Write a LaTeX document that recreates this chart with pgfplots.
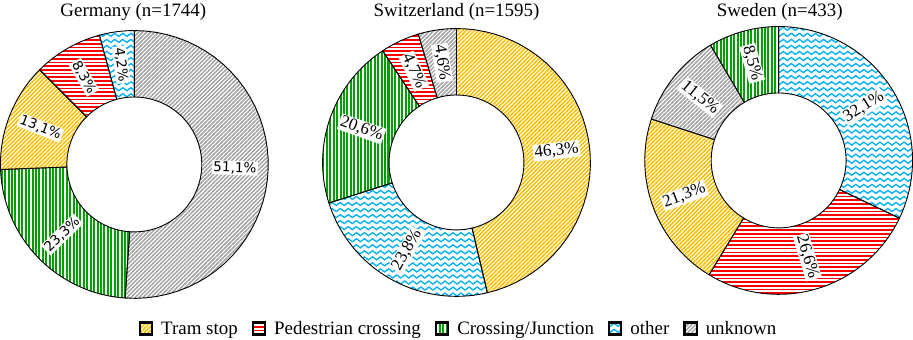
\documentclass[border=0pt]{standalone}
\usepackage{fontspec}
\setmainfont{Liberation Serif}
\newfontfamily\dejavu{DejaVu Sans}
\usepackage{pgfplots}
\pgfplotsset{compat=1.18}
\usetikzlibrary{patterns}

\definecolor{cTram}{HTML}{FFC000}
\definecolor{cPed}{HTML}{FF0000}
\definecolor{cCross}{HTML}{00A000}
\definecolor{cOther}{HTML}{00B0F0}
\definecolor{cUnk}{HTML}{A6A6A6}

\pgfdeclarepatternformonly{neline}{\pgfqpoint{-1bp}{-1bp}}{\pgfqpoint{5bp}{5bp}}{\pgfqpoint{4bp}{4bp}}{%
  \pgfsetlinewidth{1.4bp}%
  \pgfpathmoveto{\pgfqpoint{-1bp}{-1bp}}\pgfpathlineto{\pgfqpoint{5bp}{5bp}}%
  \pgfusepath{stroke}}
\pgfdeclarepatternformonly{hline}{\pgfqpoint{-1bp}{0bp}}{\pgfqpoint{5bp}{3.7bp}}{\pgfqpoint{4bp}{3.7bp}}{%
  \pgfsetlinewidth{1.7bp}%
  \pgfpathmoveto{\pgfqpoint{-1bp}{1.85bp}}\pgfpathlineto{\pgfqpoint{5bp}{1.85bp}}%
  \pgfusepath{stroke}}
\pgfdeclarepatternformonly{vline}{\pgfqpoint{0bp}{-1bp}}{\pgfqpoint{3.4bp}{5bp}}{\pgfqpoint{3.4bp}{4bp}}{%
  \pgfsetlinewidth{2bp}%
  \pgfpathmoveto{\pgfqpoint{1.7bp}{-1bp}}\pgfpathlineto{\pgfqpoint{1.7bp}{5bp}}%
  \pgfusepath{stroke}}
\pgfdeclarepatternformonly{wavy}{\pgfqpoint{-1bp}{-1bp}}{\pgfqpoint{9bp}{7bp}}{\pgfqpoint{8bp}{6bp}}{%
  \pgfsetlinewidth{1.3bp}\pgfsetroundcap%
  \pgfpathmoveto{\pgfqpoint{0bp}{3bp}}%
  \pgfpathcurveto{\pgfqpoint{1.33bp}{5bp}}{\pgfqpoint{2.67bp}{5bp}}{\pgfqpoint{4bp}{3bp}}%
  \pgfpathcurveto{\pgfqpoint{5.33bp}{1bp}}{\pgfqpoint{6.67bp}{1bp}}{\pgfqpoint{8bp}{3bp}}%
  \pgfusepath{stroke}}

\pgfplotsset{
  tram/.style={pattern=neline, pattern color=cTram},
  ped/.style={pattern=hline, pattern color=cPed},
  cross/.style={pattern=vline, pattern color=cCross},
  other/.style={pattern=wavy, pattern color=cOther},
  unk/.style={pattern=neline, pattern color=cUnk},
}

\def\rin{67}
\def\rout{133}

% #1 cx, #2 cy, #3 cumulative start (%), #4 value (%), #5 style, #6 label, #7 label font
\newcommand{\slice}[7]{%
  \addplot[#5, draw=black, line width=0.9bp, domain=0:4, samples=161, forget plot]
    ({#1 + (\rin + (\rout-\rin)*(1 - min(max(x-1,0),1) + min(max(x-3,0),1)))*cos(90-3.6*(#3 + #4*(min(x,1) - min(max(x-2,0),1))))},
     {#2 + (\rin + (\rout-\rin)*(1 - min(max(x-1,0),1) + min(max(x-3,0),1)))*sin(90-3.6*(#3 + #4*(min(x,1) - min(max(x-2,0),1))))});
  \node[fill=white, inner sep=1.2bp, font=#7,
        rotate={90-3.6*(#3+#4/2) + 180*(cos(90-3.6*(#3+#4/2))<0)}]
    at (axis cs:{#1+100*cos(90-3.6*(#3+#4/2))},{#2+100*sin(90-3.6*(#3+#4/2))}) {#6};
}

\newcommand{\gfont}{\dejavu\fontsize{13.5bp}{15bp}\selectfont}
\newcommand{\sfont}{\fontsize{17bp}{19bp}\selectfont}

\begin{document}
\begin{tikzpicture}
\begin{axis}[
  width=913bp, height=340bp, scale only axis,
  xmin=0, xmax=913, ymin=0, ymax=340,
  hide axis, clip=false,
  legend columns=-1,
  legend style={at={(axis cs:458,12)}, anchor=center, draw=none, fill=none,
    font=\fontsize{18.8bp}{21bp}\selectfont,
    nodes={inner sep=2bp},
    /tikz/every odd column/.append style={column sep=6bp},
    /tikz/every even column/.append style={column sep=12bp}},
  legend image code/.code={\draw[#1, draw=black, line width=2.2bp] (0bp,-6bp) rectangle (12bp,6bp);},
]
\addlegendimage{tram}\addlegendentry{Tram stop}
\addlegendimage{ped}\addlegendentry{Pedestrian crossing}
\addlegendimage{cross}\addlegendentry{Crossing/Junction}
\addlegendimage{other}\addlegendentry{other}
\addlegendimage{unk}\addlegendentry{unknown}

% Germany
\slice{136}{175}{0}{51.1}{unk}{51,1\%}{\gfont}
\slice{136}{175}{51.1}{23.3}{cross}{23,3\%}{\gfont}
\slice{136}{175}{74.4}{13.1}{tram}{13,1\%}{\gfont}
\slice{136}{175}{87.5}{8.3}{ped}{8,3\%}{\gfont}
\slice{136}{175}{95.8}{4.2}{other}{4,2\%}{\gfont}
% Switzerland
\slice{456}{177}{0}{46.3}{tram}{46,3\%}{\sfont}
\slice{456}{177}{46.3}{23.8}{other}{23,8\%}{\sfont}
\slice{456}{177}{70.1}{20.6}{cross}{20,6\%}{\sfont}
\slice{456}{177}{90.7}{4.7}{ped}{4,7\%}{\sfont}
\slice{456}{177}{95.4}{4.6}{unk}{4,6\%}{\sfont}
% Sweden
\slice{776}{179}{0}{32.1}{other}{32,1\%}{\sfont}
\slice{776}{179}{32.1}{26.6}{ped}{26,6\%}{\sfont}
\slice{776}{179}{58.7}{21.3}{tram}{21,3\%}{\sfont}
\slice{776}{179}{80.0}{11.5}{unk}{11,5\%}{\sfont}
\slice{776}{179}{91.5}{8.5}{cross}{8,5\%}{\sfont}

\node[anchor=base, font=\fontsize{18.8bp}{21bp}\selectfont] at (axis cs:135,322) {Germany (n=1744)};
\node[anchor=base, font=\fontsize{18.8bp}{21bp}\selectfont] at (axis cs:456,322) {Switzerland (n=1595)};
\node[anchor=base, font=\fontsize{18.8bp}{21bp}\selectfont] at (axis cs:777,322) {Sweden (n=433)};
\end{axis}
\end{tikzpicture}
\end{document}
